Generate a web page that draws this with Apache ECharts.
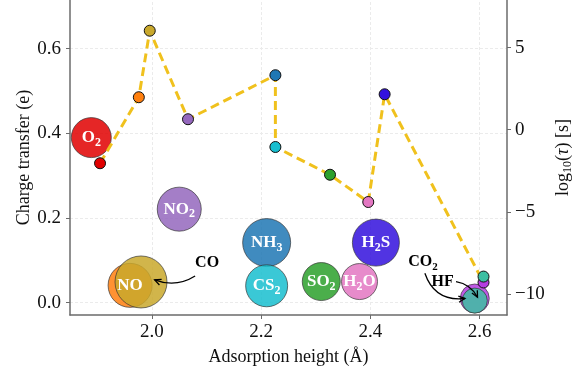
<!DOCTYPE html>
<html>
<head>
<meta charset="utf-8">
<script src="https://cdn.jsdelivr.net/npm/echarts@6/dist/echarts.min.js"></script>
<style>
  html, body { margin: 0; padding: 0; background: #fff; }
  #chart { width: 581px; height: 375px; }
</style>
</head>
<body>
<div id="chart"></div>
<script>
// Gas molecules, in order of adsorption height
const molecules        = ['O2', 'NO', 'CO', 'NO2', 'NH3', 'CS2', 'SO2', 'H2O', 'H2S', 'CO2', 'HF'];
const adsorptionHeight = [1.905, 1.976, 1.996, 2.066, 2.226, 2.226, 2.326, 2.396, 2.426, 2.607, 2.607];
const chargeTransfer   = [0.390, 0.041, 0.049, 0.221, 0.142, 0.040, 0.050, 0.050, 0.142, 0.010, 0.005];
const log10Tau         = [-2.04, 1.98, 6.03, 0.64, 3.32, -1.05, -2.74, -4.40, 2.16, -9.30, -8.94];
const bubbleLabels     = ['O{s|2}', 'NO', '', 'NO{s|2}', 'NH{s|3}', 'CS{s|2}', 'SO{s|2}', 'H{s|2}O', 'H{s|2}S', '', ''];

// Tick values
const xTicks      = [2.0, 2.2, 2.4, 2.6];
const chargeTicks = [0.0, 0.2, 0.4, 0.6];
const tauTicks    = [-10, -5, 0, 5];

// Callouts for the overlapping bubbles: text, text position, arrow tip (data units)
const annText    = ['CO', 'CO{s|2}', 'HF'];
const annTextPos = [[2.101, 0.093], [2.496, 0.097], [2.532, 0.050]];
const annTipPos  = [[2.005, 0.054], [2.573, 0.010], [2.596, 0.013]];

// ---- styling ----
const FONT = '"Liberation Serif", "Times New Roman", serif';
const molColors = ['#e00000', '#ff7f0e', '#c9a82c', '#9467bd', '#1f77b4', '#17becf',
                   '#2ca02c', '#e377c2', '#3311dd', '#b43ce0', '#3cbfa2'];
const bubbleRadius = [20, 22, 26, 22, 24, 21, 19, 18, 23.5, 14.5, 12.5];
const BUBBLE_SHIFT = -0.016;           // bubbles sit slightly left of their dots
const annTailOffset = [[-12, 12.7], [2, 11.6], [13.5, 0]];   // px from text centre
const annBend = [0.25, -0.4, 0.25];     // arc bend of each arrow
const AXIS_COLOR = '#6b6b6b';
const TEXT_COLOR = '#111';

const chart = echarts.init(document.getElementById('chart'));

const bubbleData = molecules.map((m, i) => ({
  name: m,
  value: [adsorptionHeight[i] + BUBBLE_SHIFT, chargeTransfer[i]],
  symbolSize: bubbleRadius[i] * 2,
  itemStyle: { color: molColors[i], opacity: 0.85, borderColor: '#333', borderWidth: 0.8 }
}));

const labelData = molecules.map((m, i) => ({
  name: m,
  value: [adsorptionHeight[i] + BUBBLE_SHIFT, chargeTransfer[i]],
  label: { formatter: bubbleLabels[i] }
})).filter((d, i) => bubbleLabels[i] !== '');

const tauData = molecules.map((m, i) => ({
  name: m,
  value: [adsorptionHeight[i], log10Tau[i]],
  itemStyle: { color: molColors[i], borderColor: '#111', borderWidth: 1, opacity: 1 }
}));

const annData = annText.map((t, i) => [annTextPos[i][0], annTextPos[i][1], annTipPos[i][0], annTipPos[i][1]]);

const option = {
  animation: false,
  backgroundColor: '#fff',
  grid: { left: 70, right: 74, top: 0, bottom: 60, containLabel: false, outerBoundsMode: 'none' },
  xAxis: {
    type: 'value', min: 1.85, max: 2.65,
    name: 'Adsorption height (Å)', nameLocation: 'middle', nameGap: 33, nameMoveOverlap: false,
    nameTextStyle: { fontFamily: FONT, fontSize: 18, color: TEXT_COLOR },
    axisLine: { show: true, onZero: false, lineStyle: { color: AXIS_COLOR, width: 1.5 } },
    axisTick: { show: true, customValues: xTicks, length: 4, lineStyle: { color: AXIS_COLOR } },
    axisLabel: { customValues: xTicks, formatter: v => Number(v).toFixed(1), margin: 8,
                 fontFamily: FONT, fontSize: 19, color: TEXT_COLOR },
    splitLine: { show: false }
  },
  yAxis: [{
    type: 'value', min: -0.029, max: 0.715, position: 'left',
    name: 'Charge transfer (e)', nameLocation: 'middle', nameGap: 37, nameRotate: 90,
    nameMoveOverlap: false,
    nameTextStyle: { fontFamily: FONT, fontSize: 18, color: TEXT_COLOR },
    axisLine: { show: true, onZero: false, lineStyle: { color: AXIS_COLOR, width: 1.5 } },
    axisTick: { show: true, customValues: chargeTicks, length: 4, lineStyle: { color: AXIS_COLOR } },
    axisLabel: { customValues: chargeTicks, formatter: v => Number(v).toFixed(1), margin: 9,
                 fontFamily: FONT, fontSize: 19, color: TEXT_COLOR },
    splitLine: { show: false }
  }, {
    type: 'value', min: -11.28, max: 7.90, position: 'right',
    name: 'log{sub|10}({it|τ}) [s]', nameLocation: 'middle', nameGap: 45, nameRotate: 90,
    nameMoveOverlap: false,
    nameTextStyle: {
      fontFamily: FONT, fontSize: 18, color: TEXT_COLOR, lineHeight: 22,
      rich: {
        sub: { fontFamily: FONT, fontSize: 12, color: TEXT_COLOR, verticalAlign: 'bottom', lineHeight: 10 },
        it: { fontFamily: FONT, fontSize: 18, fontStyle: 'italic', color: TEXT_COLOR }
      }
    },
    axisLine: { show: true, onZero: false, lineStyle: { color: AXIS_COLOR, width: 1.5 } },
    axisTick: { show: true, customValues: tauTicks, length: 4, lineStyle: { color: AXIS_COLOR } },
    axisLabel: { customValues: tauTicks, formatter: v => String(v).replace('-', '\u2212'), margin: 8,
                 fontFamily: FONT, fontSize: 19, color: TEXT_COLOR },
    splitLine: { show: false }
  }],
  series: [
    {
      // light dashed grid at the tick positions, kept beneath the bubbles
      type: 'scatter', name: 'grid', yAxisIndex: 0, data: [], z: 0, silent: true,
      markLine: {
        silent: true, symbol: 'none', animation: false, z: 0,
        label: { show: false },
        lineStyle: { color: '#ebebeb', width: 1, type: [3, 2] },
        data: chargeTicks.map(v => ({ yAxis: v })).concat(xTicks.map(v => ({ xAxis: v })))
      }
    },
    {
      type: 'scatter', name: 'charge transfer', yAxisIndex: 0, z: 2,
      symbol: 'circle', data: bubbleData
    },
    {
      type: 'line', name: 'lifetime', yAxisIndex: 1, z: 3,
      data: tauData,
      symbol: 'circle', symbolSize: 11,
      lineStyle: { color: '#f0c11d', width: 3, type: [9, 5] }
    },
    {
      type: 'scatter', name: 'bubble names', yAxisIndex: 0, z: 4, silent: true,
      symbolSize: 1, itemStyle: { color: '#ffffff', opacity: 0 },
      label: {
        show: true, position: 'inside', fontFamily: FONT, fontSize: 17, fontWeight: 'bold',
        color: '#ffffff', opacity: 1, textBorderWidth: 0, lineHeight: 22,
        rich: {
          s: { fontSize: 12, fontFamily: FONT, fontWeight: 'bold', color: '#ffffff',
               textBorderWidth: 0, verticalAlign: 'bottom', lineHeight: 10 }
        }
      },
      data: labelData
    },
    {
      type: 'custom', name: 'callouts', yAxisIndex: 0, z: 5, silent: true,
      encode: { x: [0, 2], y: [1, 3] },
      data: annData,
      renderItem(params, api) {
        const i = params.dataIndex;
        const p = api.coord([api.value(0), api.value(1)]);
        const tip = api.coord([api.value(2), api.value(3)]);
        const off = annTailOffset[i];
        const s = [p[0] + off[0], p[1] + off[1]];
        const dx = tip[0] - s[0], dy = tip[1] - s[1];
        const f = annBend[i];
        const c = [(s[0] + tip[0]) / 2 + f * dy, (s[1] + tip[1]) / 2 - f * dx];
        const ang = Math.atan2(tip[1] - c[1], tip[0] - c[0]);
        const L = 7, A = 0.45;
        const h1 = [tip[0] - L * Math.cos(ang - A), tip[1] - L * Math.sin(ang - A)];
        const h2 = [tip[0] - L * Math.cos(ang + A), tip[1] - L * Math.sin(ang + A)];
        return {
          type: 'group',
          children: [
            {
              type: 'text',
              style: {
                text: annText[i], x: p[0], y: p[1], align: 'center', verticalAlign: 'middle',
                fontFamily: FONT, fontSize: 16, fontWeight: 'bold', fill: '#000', lineHeight: 22,
                rich: { s: { fontFamily: FONT, fontSize: 11, fontWeight: 'bold', fill: '#000',
                             verticalAlign: 'bottom', lineHeight: 10 } }
              }
            },
            {
              type: 'bezierCurve',
              shape: { x1: s[0], y1: s[1], x2: tip[0], y2: tip[1], cpx1: c[0], cpy1: c[1] },
              style: { stroke: '#000', lineWidth: 1.3, fill: null }
            },
            {
              type: 'polyline',
              shape: { points: [h1, tip, h2] },
              style: { stroke: '#000', lineWidth: 1.3, fill: null }
            }
          ]
        };
      }
    }
  ]
};

chart.setOption(option);
</script>
</body>
</html>
